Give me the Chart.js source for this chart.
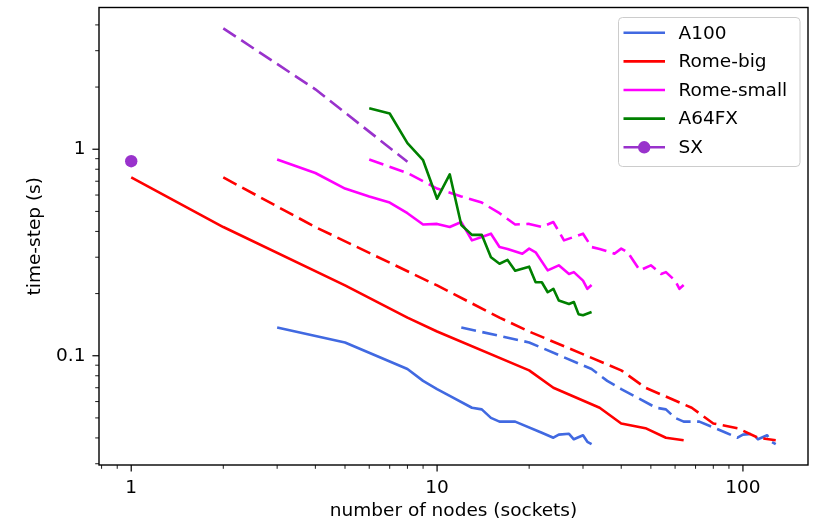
<!DOCTYPE html>
<html>
<head>
<meta charset="utf-8">
<style>
  html, body { margin: 0; padding: 0; background: #fff; }
</style>
<script src="https://cdn.jsdelivr.net/npm/chart.js@4/dist/chart.umd.min.js"></script>
</head>
<body>
<canvas id="scaling" width="815" height="524"></canvas>
<script>
// time-step (s) against number of nodes
const a100Nodes = [3, 5, 8, 9, 10, 11, 13, 14, 15, 16, 18, 22, 24, 25, 27, 28, 30, 31, 32];
const a100Time = [0.137, 0.116, 0.0862, 0.0756, 0.069, 0.064, 0.056, 0.055, 0.050, 0.048, 0.048, 0.0424, 0.0401, 0.0415, 0.0419, 0.0394, 0.0412, 0.0383, 0.0373];

const romeBigNodes = [1, 2, 5, 8, 10, 20, 24, 34, 40, 48, 56, 64];
const romeBigTime = [0.73, 0.42, 0.219, 0.153, 0.131, 0.085, 0.070, 0.056, 0.047, 0.0446, 0.0401, 0.039];

const romeSmallNodes = [3, 4, 5, 6, 7, 8, 9, 10, 11, 12, 13, 14, 15, 16, 17, 19, 20, 21, 23, 25, 27, 28, 30, 31, 32];
const romeSmallTime = [0.891, 0.767, 0.645, 0.591, 0.552, 0.49, 0.432, 0.435, 0.42, 0.444, 0.362, 0.376, 0.39, 0.336, 0.329, 0.312, 0.33, 0.317, 0.259, 0.274, 0.249, 0.254, 0.231, 0.211, 0.22];

const a64fxNodes = [6, 7, 8, 9, 10, 11, 12, 13, 14, 15, 16, 17, 18, 20, 21, 22, 23, 24, 25, 27, 28, 29, 30, 32];
const a64fxTime = [1.58, 1.49, 1.07, 0.885, 0.576, 0.756, 0.43, 0.385, 0.385, 0.30, 0.279, 0.291, 0.258, 0.27, 0.227, 0.227, 0.203, 0.211, 0.185, 0.178, 0.182, 0.159, 0.157, 0.163];

const sxNodes = [1];
const sxTime = [0.875];
const sxSockets = [2, 4, 8];
const sxSocketTime = [3.85, 1.95, 0.87];

// dashed curves: same runs counted in sockets (GPUs for A100)
const socketsPerNode = { a100: 4, romeBig: 2, romeSmall: 2 };

const xTicks = [1, 10, 100];
const yTicks = [0.1, 1];

const FONT = "'DejaVu Sans', sans-serif";
const FS = 18.5;

function pts(xs, ys, k) {
  return xs.map((v, i) => ({ x: v * (k || 1), y: ys[i] }));
}

const series = [
  { label: 'A100', color: '#4169E1', data: pts(a100Nodes, a100Time) },
  { label: 'A100 sockets', color: '#4169E1', dash: true, data: pts(a100Nodes, a100Time, socketsPerNode.a100) },
  { label: 'Rome-big', color: '#FF0000', data: pts(romeBigNodes, romeBigTime) },
  { label: 'Rome-big sockets', color: '#FF0000', dash: true, data: pts(romeBigNodes, romeBigTime, socketsPerNode.romeBig) },
  { label: 'Rome-small', color: '#FF00FF', data: pts(romeSmallNodes, romeSmallTime) },
  { label: 'Rome-small sockets', color: '#FF00FF', dash: true, data: pts(romeSmallNodes, romeSmallTime, socketsPerNode.romeSmall) },
  { label: 'A64FX', color: '#008000', data: pts(a64fxNodes, a64fxTime) },
  { label: 'SX', color: '#9932CC', marker: true, data: pts(sxNodes, sxTime) },
  { label: 'SX sockets', color: '#9932CC', dash: true, data: pts(sxSockets, sxSocketTime) },
];

const datasets = series.map((s, i) => ({
  label: s.label,
  data: s.data,
  borderColor: s.color,
  backgroundColor: s.color,
  borderWidth: 2.6,
  borderDash: s.dash ? [15, 6.5] : [],
  borderJoinStyle: 'round',
  pointRadius: s.marker ? 6.2 : 0,
  pointBorderWidth: 0,
  tension: 0,
  order: 100 - i,
  inLegend: !s.dash,
  marker: !!s.marker,
}));

// box, minor ticks and the legend in the upper right corner
const frame = {
  id: 'frame',
  afterDraw(chart) {
    const { ctx, chartArea: a, scales: { x, y } } = chart;
    ctx.save();
    ctx.strokeStyle = '#000';
    for (const d of [0.1, 1, 10, 100]) {
      for (let m = 1; m < 10; m++) {
        const v = m * d;
        if (v < x.min || v > x.max) continue;
        const px = x.getPixelForValue(v);
        ctx.lineWidth = m === 1 ? 1.2 : 0.9;
        ctx.beginPath();
        ctx.moveTo(px, a.bottom);
        ctx.lineTo(px, a.bottom + (m === 1 ? 6.6 : 3.8));
        ctx.stroke();
      }
    }
    for (const d of [0.01, 0.1, 1]) {
      for (let m = 1; m < 10; m++) {
        const v = m * d;
        if (v < y.min || v > y.max) continue;
        const py = y.getPixelForValue(v);
        ctx.lineWidth = m === 1 ? 1.2 : 0.9;
        ctx.beginPath();
        ctx.moveTo(a.left, py);
        ctx.lineTo(a.left - (m === 1 ? 6.6 : 3.8), py);
        ctx.stroke();
      }
    }
    ctx.lineWidth = 1.4;
    ctx.strokeRect(a.left, a.top, a.right - a.left, a.bottom - a.top);

    // legend
    const items = chart.data.datasets.filter(d => d.inLegend);
    const bx = 618.5, by = 17.5, bw = 181.5, bh = 149, r = 4;
    ctx.beginPath();
    ctx.roundRect(bx, by, bw, bh, r);
    ctx.fillStyle = 'rgba(255,255,255,0.8)';
    ctx.fill();
    ctx.strokeStyle = '#cccccc';
    ctx.lineWidth = 1;
    ctx.stroke();
    ctx.font = FS + 'px ' + FONT;
    ctx.textBaseline = 'middle';
    items.forEach((d, i) => {
      const ly = 32.7 + i * 28.65;
      ctx.strokeStyle = d.borderColor;
      ctx.lineWidth = 2.6;
      ctx.beginPath();
      ctx.moveTo(623.5, ly);
      ctx.lineTo(665, ly);
      ctx.stroke();
      if (d.marker) {
        ctx.fillStyle = d.borderColor;
        ctx.beginPath();
        ctx.arc(644.2, ly, 6.2, 0, Math.PI * 2);
        ctx.fill();
      }
      ctx.fillStyle = '#000';
      ctx.fillText(d.label, 678.5, ly + 1);
    });
    ctx.restore();
  }
};

const chart = new Chart(document.getElementById('scaling'), {
  type: 'line',
  data: { datasets },
  options: {
    responsive: false,
    animation: false,
    events: [],
    layout: { padding: { left: 0, top: 7.5, right: 7, bottom: 0 } },
    plugins: { legend: { display: false }, tooltip: { enabled: false } },
    scales: {
      x: {
        type: 'logarithmic',
        min: 0.7846,
        max: 163.2,
        bounds: 'data',
        afterBuildTicks: s => { s.ticks = xTicks.map(v => ({ value: v })); },
        afterFit: s => { s.height = 59; },
        grid: { display: false, drawTicks: false },
        border: { display: false },
        ticks: {
          color: '#000',
          padding: 12,
          maxRotation: 0,
          font: { family: FONT, size: FS },
          callback: v => String(v),
        },
        title: {
          display: true,
          text: 'number of nodes (sockets)',
          color: '#000',
          font: { family: FONT, size: FS },
          padding: { top: 0, bottom: 2 },
        },
      },
      y: {
        type: 'logarithmic',
        min: 0.02958,
        max: 4.856,
        bounds: 'data',
        afterBuildTicks: s => { s.ticks = yTicks.map(v => ({ value: v })); },
        afterFit: s => { s.width = 99; s.paddingTop = 0; s.paddingBottom = 0; },
        grid: { display: false, drawTicks: false },
        border: { display: false },
        ticks: {
          color: '#000',
          padding: 13.5,
          font: { family: FONT, size: FS },
          callback: v => String(v),
        },
        title: {
          display: true,
          text: 'time-step (s)',
          color: '#000',
          font: { family: FONT, size: FS },
          padding: { top: 24, bottom: 0 },
        },
      },
    },
  },
  plugins: [frame],
});
</script>
</body>
</html>
